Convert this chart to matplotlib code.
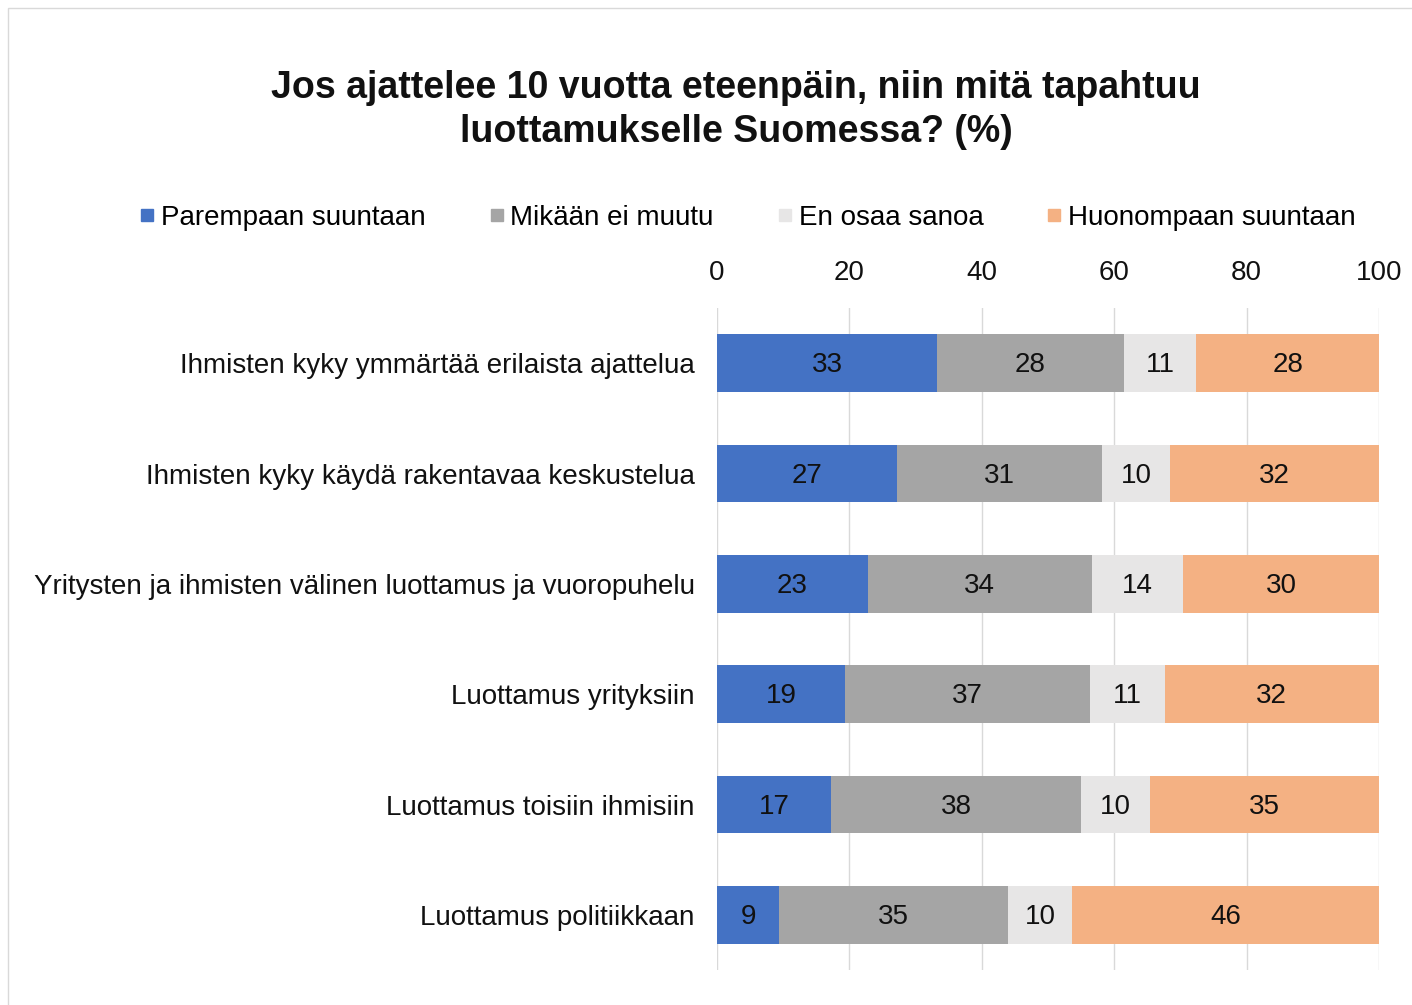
import matplotlib
matplotlib.use("Agg")
import matplotlib.pyplot as plt
from matplotlib.lines import Line2D
from matplotlib.patches import Rectangle
import numpy as np

plt.rcParams['font.family'] = ['Liberation Sans', 'DejaVu Sans']

categories = [
    "Ihmisten kyky ymmärtää erilaista ajattelua",
    "Ihmisten kyky käydä rakentavaa keskustelua",
    "Yritysten ja ihmisten välinen luottamus ja vuoropuhelu",
    "Luottamus yrityksiin",
    "Luottamus toisiin ihmisiin",
    "Luottamus politiikkaan",
]
series_names = ["Parempaan suuntaan", "Mikään ei muutu", "En osaa sanoa", "Huonompaan suuntaan"]
parempaan = [33.2, 27.2, 22.8, 19.3, 17.2, 9.4]
ei_muutu = [28.3, 31.0, 33.8, 37.0, 37.8, 34.6]
en_osaa = [10.9, 10.2, 13.8, 11.3, 10.4, 9.7]
huonompaan = [27.6, 31.6, 29.6, 32.4, 34.6, 46.3]
colors = ["#4472C4", "#A5A5A5", "#E7E6E6", "#F4B183"]
x_ticks = [0, 20, 40, 60, 80, 100]
title = "Jos ajattelee 10 vuotta eteenpäin, niin mitä tapahtuu\nluottamukselle Suomessa? (%)"

FS = 20

fig = plt.figure(figsize=(14.12, 10.05), dpi=100)
fig.patch.set_facecolor("white")
fig.patches.append(Rectangle((8/1412, -0.01), 1.1, (1005-8)/1005 + 0.01, transform=fig.transFigure,
                             fill=False, edgecolor="#D9D9D9", linewidth=1.0))

ax = fig.add_axes([717/1412, 35/1005, 662/1412, 662/1005])
y = np.arange(len(categories))
left = np.zeros(len(categories))
for vals, name, col in zip([parempaan, ei_muutu, en_osaa, huonompaan], series_names, colors):
    vals = np.array(vals)
    ax.barh(y, vals, left=left, height=0.52, color=col, label=name, zorder=3)
    for yi, l, v in zip(y, left, vals):
        ax.text(l + v / 2, yi + 0.02, f"{v:.0f}", ha="center", va="center", fontsize=FS, color="#111111", zorder=4)
    left += vals

ax.set_xlim(0, 100)
ax.set_ylim(len(categories) - 0.5, -0.5)
ax.set_xticks(x_ticks)
ax.xaxis.tick_top()
ax.tick_params(axis="x", length=0, labelsize=FS, pad=16, labelcolor="#111111")
ax.set_yticks(y)
ax.set_yticklabels(categories)
ax.tick_params(axis="y", length=0, labelsize=FS, pad=16, labelcolor="#111111")
ax.grid(axis="x", color="#D9D9D9", linewidth=1, zorder=0)
for s in ax.spines.values():
    s.set_visible(False)

fig.text(736/1412, 1 - 110/1005, title, ha="center", va="center", fontsize=27, fontweight="bold",
         linespacing=1.28, color="#111111")

handles = [Line2D([0], [0], marker="s", linestyle="none", markersize=8, markerfacecolor=c, markeredgecolor=c)
           for c in colors]
fig.legend(handles, series_names, loc="center", bbox_to_anchor=(748/1412, 1 - 218/1005), ncol=4,
           frameon=False, fontsize=FS, handlelength=0.5, handletextpad=0.25, columnspacing=2.3)

fig.savefig("out.png", dpi=100)
